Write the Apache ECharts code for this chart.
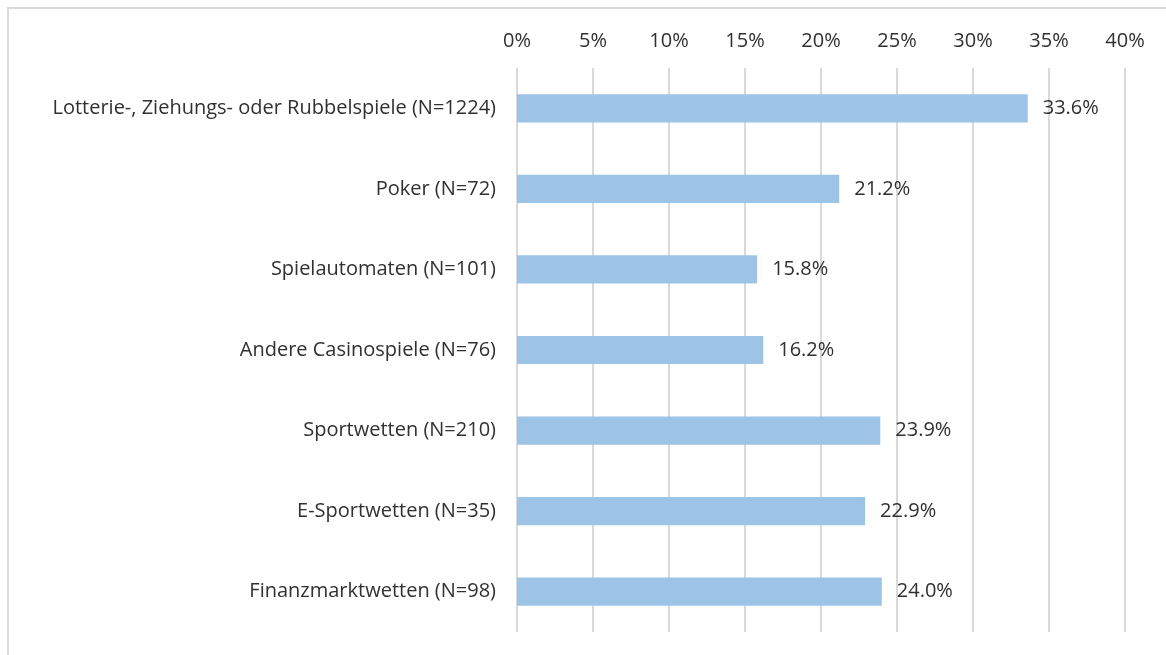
<!DOCTYPE html>
<html>
<head>
<meta charset="utf-8">
<title>Anteil nach Spielform</title>
<script src="https://cdn.jsdelivr.net/npm/echarts@6/dist/echarts.min.js"></script>
<style>
  html, body {
    margin: 0;
    padding: 0;
    background: #fff;
    overflow: hidden;
  }

  .chart-frame {
    position: absolute;
    left: 7px;
    top: 7px;
    width: 1300px;
    height: 800px;
    border: 2px solid #d9d9d9;
  }

  #chart {
    position: absolute;
    left: 0;
    top: 0;
    width: 1166px;
    height: 655px;
  }
</style>
</head>
<body>
<div class="chart-frame"></div>
<div id="chart"></div>
<script>
const categories = [
  'Lotterie-, Ziehungs- oder Rubbelspiele (N=1224)',
  'Poker (N=72)',
  'Spielautomaten (N=101)',
  'Andere Casinospiele (N=76)',
  'Sportwetten (N=210)',
  'E-Sportwetten (N=35)',
  'Finanzmarktwetten (N=98)',
]
const shares = [33.6, 21.2, 15.8, 16.2, 23.9, 22.9, 24.0]

const textColor = '#303030'
const fontFamily = 'Open Sans, Liberation Sans, sans-serif'

const chart = echarts.init(document.getElementById('chart'))
chart.setOption({
  animation: false,
  grid: {
    left: 517,
    right: 41,
    top: 68,
    bottom: 23,
  },
  xAxis: {
    type: 'value',
    position: 'top',
    min: 0,
    max: 40,
    interval: 5,
    axisLine: { show: false },
    axisTick: { show: false },
    axisLabel: {
      color: textColor,
      fontFamily,
      fontSize: 20,
      margin: 17,
      formatter: '{value}%',
    },
    splitLine: {
      lineStyle: { color: '#d9d9d9', width: 2 },
    },
  },
  yAxis: {
    type: 'category',
    inverse: true,
    data: categories,
    axisLine: { show: false },
    axisTick: { show: false },
    axisLabel: {
      color: textColor,
      fontFamily,
      fontSize: 20,
      margin: 21,
    },
  },
  series: [{
    type: 'bar',
    data: shares,
    barWidth: '35%',
    itemStyle: { color: '#9dc3e6' },
    label: {
      show: true,
      position: 'right',
      distance: 15,
      color: textColor,
      fontFamily,
      fontSize: 20,
      formatter: (p) => p.value.toFixed(1) + '%',
    },
  }],
})
</script>
</body>
</html>
